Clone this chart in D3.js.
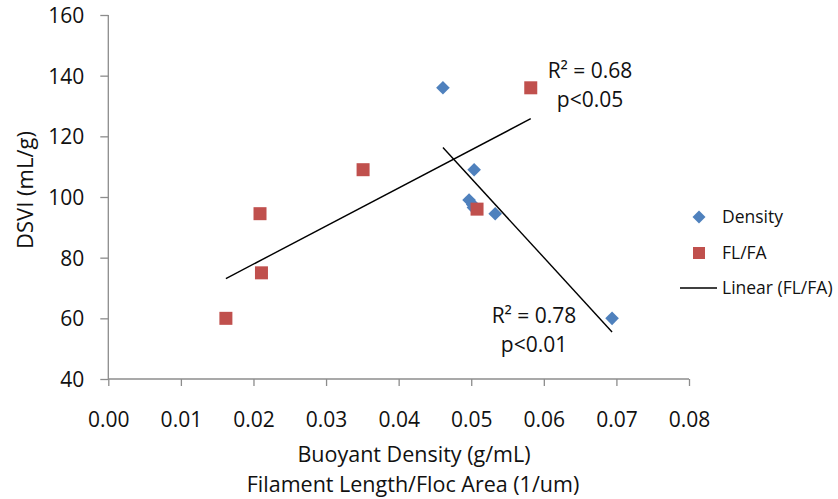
<!DOCTYPE html>
<html>
<head>
<meta charset="utf-8">
<script src="https://cdn.jsdelivr.net/npm/d3@7"></script>
<style>
  html, body { margin: 0; padding: 0; background: #fff; }
  svg { display: block; font-family: "Open Sans", "Liberation Sans", sans-serif; }
</style>
</head>
<body>
<svg id="chart" width="838" height="499"></svg>
<script>
// ---- data ----
const densityX = [0.0461, 0.0504, 0.0497, 0.0502, 0.0503, 0.0533, 0.0694];
const densityY = [136, 109, 99, 97.5, 96.5, 94.5, 60];
const flfaX = [0.0162, 0.0211, 0.0209, 0.0351, 0.0508, 0.0582];
const flfaY = [60, 75, 94.5, 109, 96, 136];
const xTicks = [0, 0.01, 0.02, 0.03, 0.04, 0.05, 0.06, 0.07, 0.08];
const yTicks = [40, 60, 80, 100, 120, 140, 160];
const legendLabels = ["Density", "FL/FA", "Linear (FL/FA)"];
const annotFLFA = ["R² = 0.68", "p<0.05"];
const annotDensity = ["R² = 0.78", "p<0.01"];

// ---- layout ----
const svg = d3.select("#chart");
const pLeft = 108.3, pRight = 689, pTop = 15, pBottom = 379;
const x = d3.scaleLinear().domain([0, 0.08]).range([pLeft, pRight]);
const y = d3.scaleLinear().domain([40, 160]).range([pBottom, pTop]);
const axisColor = "#8c8c8c";
const blue = "#4F81BD", red = "#C0504D";
const ink = "#111";

// axes
const xAxis = svg.append("g").attr("transform", `translate(0,${pBottom})`)
  .call(d3.axisBottom(x).tickValues(xTicks).tickFormat(d3.format(".2f")).tickSize(7).tickPadding(26));
const yAxis = svg.append("g").attr("transform", `translate(${pLeft},0)`)
  .call(d3.axisLeft(y).tickValues(yTicks).tickFormat(d3.format("d")).tickSize(8).tickPadding(16));
[xAxis, yAxis].forEach(g => {
  g.select(".domain").attr("stroke", axisColor).attr("stroke-width", 1.3);
  g.selectAll(".tick line").attr("stroke", axisColor).attr("stroke-width", 1.3);
  g.selectAll(".tick text").attr("fill", ink).style("font-size", "21px")
    .style("font-family", "'Open Sans', sans-serif");
});
yAxis.selectAll(".tick text").attr("dy", "0.36em");
yAxis.select(".domain").attr("d", `M0,${pBottom}V${pTop}`);
xAxis.select(".domain").attr("d", `M${pLeft},0H${pRight}`);

// regression helper
function linreg(xs, ys) {
  const mx = d3.mean(xs), my = d3.mean(ys);
  const sxy = d3.sum(xs, (v, i) => (v - mx) * (ys[i] - my));
  const sxx = d3.sum(xs, v => (v - mx) ** 2);
  const b = sxy / sxx, a = my - b * mx;
  return v => a + b * v;
}
const line = d3.line().x(d => x(d[0])).y(d => y(d[1]));
[[flfaX, flfaY], [densityX, densityY]].forEach(([xs, ys]) => {
  const f = linreg(xs, ys);
  const ext = d3.extent(xs);
  svg.append("path").attr("d", line(ext.map(v => [v, f(v)])))
    .attr("stroke", "#000").attr("stroke-width", 1.4).attr("fill", "none");
});

// markers
const diamond = s => `M0,${-s}L${s},0L0,${s}L${-s},0Z`;
svg.append("g").selectAll("path").data(densityX.map((v, i) => [v, densityY[i]])).join("path")
  .attr("d", diamond(6.8)).attr("fill", blue)
  .attr("transform", d => `translate(${x(d[0])},${y(d[1])})`);
svg.append("g").selectAll("rect").data(flfaX.map((v, i) => [v, flfaY[i]])).join("rect")
  .attr("x", d => x(d[0]) - 6.5).attr("y", d => y(d[1]) - 6.5)
  .attr("width", 13).attr("height", 13).attr("fill", red);

// annotations
function annot(lines, cx, y1, y2) {
  svg.append("text").attr("x", cx).attr("y", y1).attr("text-anchor", "middle")
    .style("font-size", "21px").attr("fill", ink).text(lines[0]);
  svg.append("text").attr("x", cx).attr("y", y2).attr("text-anchor", "middle")
    .style("font-size", "21px").attr("fill", ink).text(lines[1]);
}
annot(annotFLFA, 590, 78, 107);
annot(annotDensity, 534, 323, 352);

// axis titles
svg.append("text").attr("x", 414).attr("y", 462).attr("text-anchor", "middle")
  .style("font-size", "21.5px").attr("fill", ink).text("Buoyant Density (g/mL)");
svg.append("text").attr("x", 413).attr("y", 492).attr("text-anchor", "middle")
  .style("font-size", "21.5px").attr("fill", ink).text("Filament Length/Floc Area (1/um)");
svg.append("text").attr("transform", "translate(25,190) rotate(-90)").attr("text-anchor", "middle")
  .attr("dy", "0.36em").style("font-size", "22px").attr("fill", ink).text("DSVI (mL/g)");

// legend
const lg = svg.append("g");
const ly = [217, 253, 288];
lg.append("path").attr("d", diamond(6.5)).attr("fill", blue).attr("transform", `translate(699,${ly[0]})`);
lg.append("rect").attr("x", 693).attr("y", ly[1] - 6).attr("width", 12).attr("height", 12).attr("fill", red);
lg.append("line").attr("x1", 680).attr("x2", 717).attr("y1", ly[2]).attr("y2", ly[2])
  .attr("stroke", "#000").attr("stroke-width", 1.3);
legendLabels.forEach((t, i) => {
  lg.append("text").attr("x", 722).attr("y", ly[i]).attr("dy", "0.36em")
    .style("font-size", "17.5px").attr("fill", ink).text(t);
});
</script>
</body>
</html>
